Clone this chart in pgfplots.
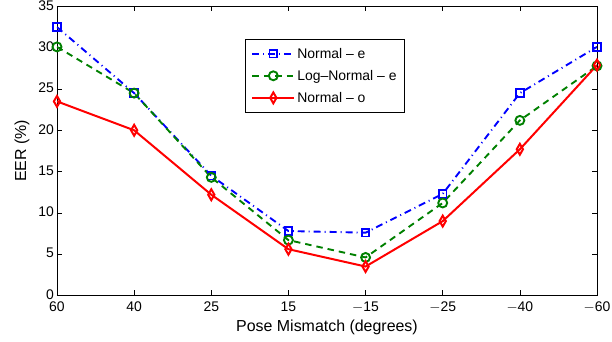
\documentclass[border=0pt]{standalone}
\usepackage{pgfplots}
\pgfplotsset{compat=1.18}
\usepackage{fontspec}
\setmainfont{Liberation Sans}
\begin{document}
\begin{tikzpicture}
\begin{axis}[
  name=ax,
  scale only axis,
  width=540bp, height=289bp,
  xmin=0, xmax=7, ymin=0, ymax=35,
  xtick={0,...,7},
  xticklabels={60,40,25,15,$-$15,$-$25,$-$40,$-$60},
  ytick={0,5,...,35},
  tick align=inside,
  major tick length=5bp,
  axis line style={line width=0.8pt},
  tick style={black, line width=0.6pt},
  /pgf/number format/assume math mode=true,
  tick label style={font=\fontsize{14}{16}\selectfont, inner sep=0.5bp},
  yticklabel style={xshift=-2.5bp, yshift=1bp},
  xticklabel style={yshift=-5.5bp},
  label style={font=\fontsize{16}{18}\selectfont},
  xlabel={Pose Mismatch (degrees)},
  ylabel={EER (\%)},
  xlabel style={at={(axis description cs:0.5,-0.11)}, anchor=center},
  ylabel style={at={(axis description cs:-0.065,0.5)}, anchor=center, rotate=0},
  legend style={at={(rel axis cs:0.348,0.889)}, anchor=north west, font=\fontsize{14}{16}\selectfont, draw=black, line width=0.8pt, row sep=6.5bp, inner xsep=6bp, inner ysep=7bp},
  legend cell align=left,
  legend image code/.code={\draw[mark repeat=2,mark phase=2] plot coordinates {(0bp,0bp) (21bp,0bp) (42bp,0bp)};},
]
\addplot[blue, line width=1.9pt, dash pattern=on 7pt off 4pt on 1pt off 4pt, mark=square, mark size=3.8pt, mark options={solid}] coordinates {
(0,32.5) (1,24.5) (2,14.5) (3,7.8) (4,7.6) (5,12.3) (6,24.5) (7,30.1)};
\addlegendentry{Normal -- e}
\addplot[green!50!black, line width=1.9pt, dash pattern=on 6.5pt off 5pt, mark=o, mark size=4.5pt, mark options={solid}] coordinates {
(0,30.1) (1,24.5) (2,14.3) (3,6.7) (4,4.6) (5,11.2) (6,21.2) (7,27.8)};
\addlegendentry{Log--Normal -- e}
\addplot[red, line width=2pt, mark=diamond, mark size=4.2pt, mark options={solid, yscale=1.3}] coordinates {
(0,23.5) (1,20.0) (2,12.2) (3,5.6) (4,3.5) (5,9.0) (6,17.7) (7,27.9)};
\addlegendentry{Normal -- o}
\end{axis}
\path (ax.south west) ++(-57bp,-46bp);
\path (ax.north east) ++(15bp,6bp);
\end{tikzpicture}
\end{document}
